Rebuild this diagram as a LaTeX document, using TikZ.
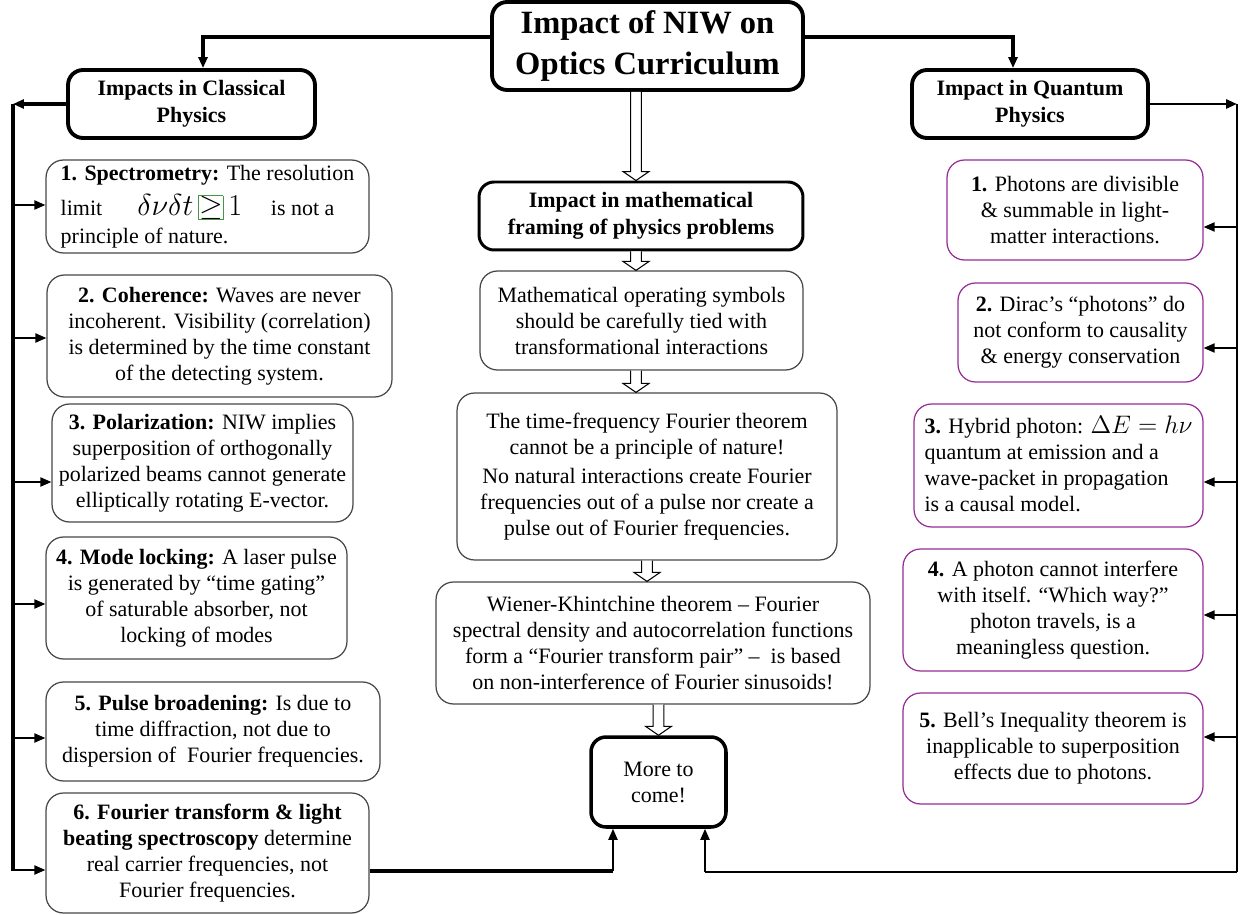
\documentclass[tikz,border=0pt]{standalone}
\usepackage{fontspec}
\setmainfont{Liberation Serif}
\usetikzlibrary{arrows.meta,calc}

\definecolor{boxgray}{RGB}{70,70,70}
\definecolor{qpurple}{RGB}{150,45,150}
\definecolor{eqgreen}{RGB}{70,150,70}

% hollow block arrow between two boxes (x taken from the start point)
\newcommand{\hollowarrow}[2]{%
  \draw[line width=0.6pt, fill=white] let \p1=(#1), \p2=(#2) in
    (\x1-3.1pt,\y1) -- (\x1-3.1pt,\y2+5.1pt) -- (\x1-7.4pt,\y2+5.1pt) -- (\x1,\y2)
    -- (\x1+7.4pt,\y2+5.1pt) -- (\x1+3.1pt,\y2+5.1pt) -- (\x1+3.1pt,\y1);}

\begin{document}
\begin{tikzpicture}[x=0.02cm, y=-0.02cm, >={Triangle[length=0.22cm,width=0.18cm]},
    every node/.style={font=\fontsize{12.5}{14.8}\selectfont, align=center, inner sep=0pt},
    topbox/.style={draw, line width=2.2pt, rounded corners=0.3cm, font=\fontsize{12.5}{15.5}\selectfont\bfseries},
    classbox/.style={draw=boxgray, line width=0.7pt, rounded corners=0.35cm},
    quantbox/.style={draw=qpurple, line width=0.7pt, rounded corners=0.35cm},
    heavy/.style={line width=2.2pt},
    feed/.style={line width=1.1pt, ->}]
    \useasboundingbox (0,0) rectangle (1244,915);

    % Main heads
    \node[topbox, font=\fontsize{18.5}{23.3}\selectfont\bfseries, minimum width=6.22cm, minimum height=1.76cm] (title) at (647.5,46) {Impact of NIW on\\Optics Curriculum};
    \node[topbox, minimum width=4.94cm, minimum height=1.36cm] (classical) at (191.5,104) {Impacts in Classical\\Physics};
    \node[topbox, minimum width=4.72cm, minimum height=1.36cm] (quantum) at (1030,104) {Impact in Quantum\\Physics};

    % Classical column
    \node[classbox, align=left, minimum width=6.46cm, minimum height=1.86cm] (l1) at (207.5,206.5) {\textbf{1. Spectrometry:} The resolution\\[5pt]limit\hspace{1.6em}\smash{\fontsize{17}{17}\selectfont$\delta\nu\delta t\,{\fboxsep=0pt\fcolorbox{eqgreen}{white}{$\geq$}}\,1$}\hspace{1.3em}is not a\\[1pt]principle of nature.};
    \node[classbox, minimum width=6.9cm, minimum height=2.44cm] (l2) at (219.5,336) {\textbf{2. Coherence:} Waves are never\\incoherent. Visibility (correlation)\\is determined by the time constant\\of the detecting system.};
    \node[classbox, minimum width=6.02cm, minimum height=2.36cm] (l3) at (202.5,463) {\textbf{3. Polarization:} NIW implies\\superposition of orthogonally\\polarized beams cannot generate\\elliptically rotating E-vector.};
    \node[classbox, minimum width=6.02cm, minimum height=2.44cm] (l4) at (196.5,598) {\textbf{4. Mode locking:} A laser pulse\\is generated by “time gating”\\of saturable absorber, not\\locking of modes};
    \node[classbox, minimum width=6.68cm, minimum height=1.98cm] (l5) at (213,731.5) {\textbf{5. Pulse broadening:} Is due to\\time diffraction, not due to\\dispersion of\ \ Fourier frequencies.};
    \node[classbox, minimum width=6.46cm, minimum height=2.4cm] (l6) at (207.5,853) {\textbf{6. Fourier transform \& light}\\\textbf{beating spectroscopy} determine\\real carrier frequencies, not\\Fourier frequencies.};

    % Quantum column
    \node[quantbox, minimum width=5.12cm, minimum height=2.0cm] (r1) at (1075,210) {\textbf{1.} Photons are divisible\\\& summable in light-\\matter interactions.};
    \node[quantbox, minimum width=4.9cm, minimum height=1.98cm] (r2) at (1080.5,332.5) {\textbf{2.} Dirac’s “photons” do\\not conform to causality\\\& energy conservation};
    \node[quantbox, align=left, minimum width=5.78cm, minimum height=2.46cm] (r3) at (1058.5,465.5) {\textbf{3.} Hybrid photon: \smash{\fontsize{14.5}{14.5}\selectfont$\Delta E = h\nu$}\\quantum at emission and a\\wave-packet in propagation\\is a causal model.};
    \node[quantbox, minimum width=6.0cm, minimum height=2.44cm] (r4) at (1053,610) {\textbf{4.} A photon cannot interfere\\with itself. “Which way?”\\photon travels, is a\\meaningless question.};
    \node[quantbox, minimum width=6.0cm, minimum height=2.22cm] (r5) at (1053,748.5) {\textbf{5.} Bell’s Inequality theorem is\\inapplicable to superposition\\effects due to photons.};

    % Middle column
    \node[topbox, line width=1.7pt, minimum width=6.48cm, minimum height=1.36cm] (m0) at (641,216) {Impact in mathematical\\framing of physics problems};
    \node[classbox, minimum width=6.46cm, minimum height=1.98cm] (m1) at (641.5,320.5) {Mathematical operating symbols\\should be carefully tied with\\transformational interactions};
    \node[classbox, minimum width=7.6cm, minimum height=3.34cm] (m2) at (647,476.5) {The time-frequency Fourier theorem\\cannot be a principle of nature!\\[2pt]No natural interactions create Fourier\\frequencies out of a pulse nor create a\\pulse out of Fourier frequencies.};
    \node[classbox, minimum width=8.68cm, minimum height=2.44cm] (m3) at (653,643) {Wiener-Khintchine theorem – Fourier\\spectral density and autocorrelation functions\\form a “Fourier transform pair” –\ \ is based\\on non-interference of Fourier sinusoids!};
    \node[draw, line width=2pt, rounded corners=0.3cm, minimum width=2.7cm, minimum height=1.8cm] (more) at (658.5,782) {More to\\come!};

    % Hollow arrows down the middle
    \hollowarrow{$(title.south)+(-11.5,0)$}{m0.north}
    \hollowarrow{$(m0.south)+(-5,0)$}{m1.north}
    \hollowarrow{$(m1.south)+(-5.5,0)$}{m2.north}
    \hollowarrow{m2.south}{m3.north}
    \hollowarrow{m3.south -| more.north}{more.north}

    % Title to the two sides
    \draw[heavy, ->] ([yshift=0.18cm]title.west) -| ([xshift=0.23cm]classical.north);
    \draw[heavy, ->] ([yshift=0.18cm]title.east) -| ([xshift=-0.34cm]quantum.north);

    % Left spine
    \coordinate (ltop) at (13,104);
    \coordinate (lbot) at (13,871);
    \draw[heavy, ->] (classical.west) -- (ltop);
    \draw[heavy] (ltop) -- (lbot);
    \foreach \b/\yy in {l1/205, l2/338, l3/482, l4/604, l5/738, l6/870}
        \draw[feed] (ltop |- 0,\yy) -- (\b.west |- 0,\yy);

    % Right spine
    \coordinate (rtop) at (1237,104);
    \coordinate (rbot) at (1237,872);
    \draw[line width=1.6pt, ->] (quantum.east) -- (rtop);
    \draw[line width=1.6pt] (rtop) -- (rbot);
    \foreach \b/\yy in {r1/227, r2/348, r3/482, r4/615, r5/737}
        \draw[feed] (rtop |- 0,\yy) -- (\b.east |- 0,\yy);

    % Both sides into the last box
    \coordinate (lturn) at (613,871);
    \coordinate (rturn) at (705,872);
    \draw[heavy] (l6.east |- lturn) -- (lturn);
    \draw[feed] (lturn) -- (lturn |- more.south);
    \draw[line width=1.6pt] (rbot) -- (rturn);
    \draw[feed] (rturn) -- (rturn |- more.south);
\end{tikzpicture}
\end{document}
